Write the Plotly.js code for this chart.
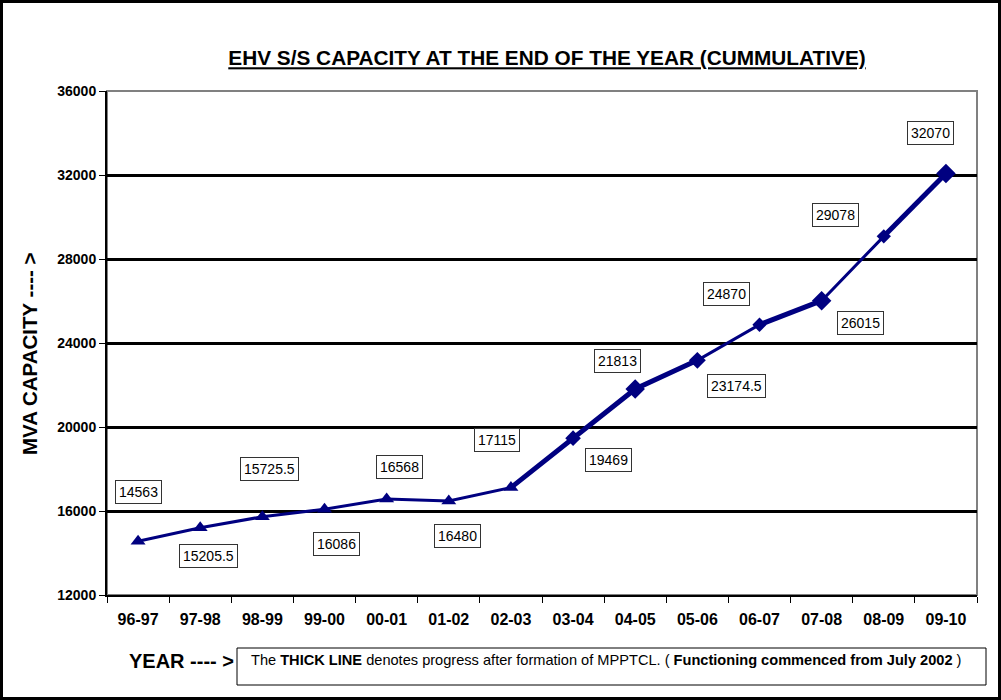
<!DOCTYPE html>
<html><head><meta charset="utf-8">
<script src="https://cdn.plot.ly/plotly-3.0.1.min.js"></script>
<style>html,body{margin:0;padding:0;background:#fff}#chart{width:1001px;height:700px}</style>
</head><body><div id="chart"></div>
<script>
// ---- data ----
const years = ['96-97','97-98','98-99','99-00','00-01','01-02','02-03','03-04','04-05','05-06','06-07','07-08','08-09','09-10'];
const capacity = [14563, 15205.5, 15725.5, 16086, 16568, 16480, 17115, 19469, 21813, 23174.5, 24870, 26015, 29078, 32070];
const preFormationCount = 7;            // points drawn with triangles (up to 02-03)
const thickSpans = [[6,9],[10,11],[12,13]]; // index ranges drawn with the thick line
const yTickVals = [12000,16000,20000,24000,28000,32000,36000];

// ---- styles / positions ----
const NAVY = '#000080';
const FONT = 'Liberation Sans, Arial, sans-serif';
const labelOffsets = [[0,49],[8,-28],[7,48],[12,-35],[13,32],[9,-35],[-14,48],[35,-22],[-18,28],[39,-26],[-33,31],[39,-22],[-48,21],[-15,41]];
const diamondSizes = [12,15,13,11,15,11,15];

const L = 107, R = 977, T = 91, B = 595, W = 1001, H = 700;
const xp = px => (px - L) / (R - L);
const yp = py => (B - py) / (B - T);

const traces = [];
traces.push({x: years, y: capacity, type: 'scatter', mode: 'lines',
  line: {color: NAVY, width: 3}, hoverinfo: 'skip', showlegend: false});
thickSpans.forEach(([a,b]) => traces.push({x: years.slice(a,b+1), y: capacity.slice(a,b+1),
  type: 'scatter', mode: 'lines', line: {color: NAVY, width: 5}, showlegend: false}));
traces.push({x: years.slice(0, preFormationCount), y: capacity.slice(0, preFormationCount),
  type: 'scatter', mode: 'markers', marker: {symbol: 'triangle-up', size: 13, color: NAVY, opacity: 1}, showlegend: false});
traces.push({x: years.slice(preFormationCount), y: capacity.slice(preFormationCount),
  type: 'scatter', mode: 'markers', marker: {symbol: 'diamond', size: diamondSizes, color: NAVY, opacity: 1, line: {width: 0}}, showlegend: false});

const annotations = capacity.map((v,i) => ({
  x: years[i], y: v, xref: 'x', yref: 'y', text: String(v), showarrow: false,
  xshift: labelOffsets[i][0], yshift: labelOffsets[i][1],
  font: {family: FONT, size: 14, color: '#000'}, bgcolor: '#fff',
  bordercolor: '#333', borderwidth: 1, borderpad: 3
}));
annotations.push({xref: 'paper', yref: 'paper', x: xp(30), y: yp(354), xanchor: 'center', yanchor: 'middle', textangle: -90,
  text: '<b>MVA CAPACITY ---- ></b>', showarrow: false, font: {family: FONT, size: 20.5, color: '#000'}});
annotations.push({xref: 'paper', yref: 'paper', x: xp(127), y: yp(661), xanchor: 'left', yanchor: 'middle',
  text: '<b>YEAR ---- ></b>', showarrow: false, font: {family: FONT, size: 20, color: '#000'}});
annotations.push({xref: 'paper', yref: 'paper', x: xp(249), y: yp(660), xanchor: 'left', yanchor: 'middle',
  text: 'The <b>THICK LINE</b> denotes progress after formation of MPPTCL. ( <b>Functioning commenced from July 2002</b> )',
  showarrow: false, font: {family: FONT, size: 14.6, color: '#000'}});

const shapes = [
  {type: 'rect', xref: 'paper', yref: 'paper', x0: 0, x1: 1, y0: 0, y1: 1, line: {color: '#808080', width: 2}, layer: 'below'},
  {type: 'rect', xref: 'paper', yref: 'paper', x0: xp(237), x1: xp(986), y0: yp(648), y1: yp(685), line: {color: '#000', width: 1}},
  {type: 'rect', xref: 'paper', yref: 'paper', x0: xp(1.5), x1: xp(999.5), y0: yp(1.5), y1: yp(698.5), line: {color: '#000', width: 3}}
];

const layout = {
  width: W, height: H, margin: {l: L, r: W - R, t: T, b: H - B},
  paper_bgcolor: '#fff', plot_bgcolor: '#fff', showlegend: false,
  title: {text: '<b><u>EHV S/S CAPACITY AT THE END OF THE YEAR (CUMMULATIVE)</u></b>',
    font: {family: FONT, size: 20.8, color: '#000'}, x: 547 / W, xanchor: 'center', xref: 'container',
    y: 1 - 58 / H, yanchor: 'middle', yref: 'container'},
  xaxis: {type: 'category', categoryorder: 'array', categoryarray: years, tickson: 'boundaries',
    ticks: 'outside', ticklen: 6, tickcolor: '#000', tickwidth: 1, showline: true, linecolor: '#000', linewidth: 2,
    showgrid: false, zeroline: false, range: [-0.5, years.length - 0.5], ticklabelstandoff: 9,
    tickfont: {family: FONT, size: 16, color: '#000', weight: 'bold'}},
  yaxis: {range: [12000, 36000], tickvals: yTickVals, ticktext: yTickVals.map(String),
    ticks: 'outside', ticklen: 6, tickcolor: '#000', tickwidth: 1, showline: true, linecolor: '#000', linewidth: 2,
    showgrid: true, gridcolor: '#000', gridwidth: 3, zeroline: false,
    tickfont: {family: FONT, size: 14, color: '#000', weight: 'bold'}},
  annotations: annotations, shapes: shapes
};
Plotly.newPlot('chart', traces, layout, {displayModeBar: false, staticPlot: true});
</script></body></html>
